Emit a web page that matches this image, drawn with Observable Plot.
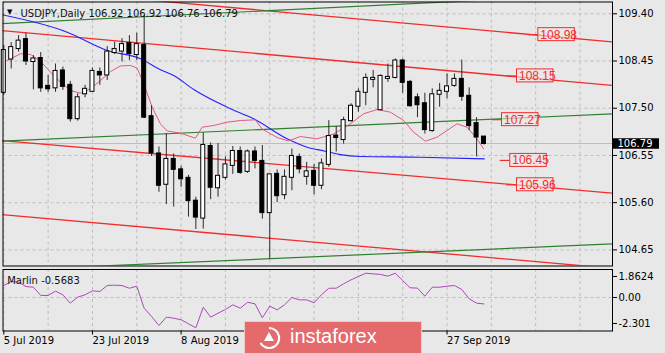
<!DOCTYPE html>
<html><head><meta charset="utf-8">
<script src="https://cdn.jsdelivr.net/npm/d3@7"></script>
<script src="https://cdn.jsdelivr.net/npm/@observablehq/plot@0.6"></script>
<style>
html,body{margin:0;padding:0;background:#e8e8e8;}
#wrap{position:relative;width:665px;height:353px;overflow:hidden;background:#e8e8e8;font-family:"DejaVu Sans";}
#main,#sub{position:absolute;left:0;}
#main{top:0;}
#sub{top:267px;}
#wm{position:absolute;left:244px;top:321px;width:178px;height:33px;background:#e46a6c;border:1px solid #f3c9ca;box-sizing:border-box;color:#fff;font:20px "Liberation Sans";}
#wm span{position:absolute;left:45px;top:3px;}
#wm svg{position:absolute;left:12px;top:4px;}
</style></head><body>
<div id="wrap"><div id="main"></div><div id="sub"></div><div id="wm"><svg width="24" height="24" viewBox="0 0 24 24"><path d="M12 2 A10 10 0 1 1 3.5 17" fill="none" stroke="#fff" stroke-width="2.2"/><path d="M7 15 L12 6 L17 15 Z" fill="#fff"/></svg><span>instaforex</span></div></div>
<script>
// ---- data ----
const symbolTitle = "USDJPY,Daily 106.92 106.92 106.76 106.79";
const openP  = [107.82,108.49,108.70,108.88,108.44,108.50,107.94,107.91,108.25,107.96,107.29,107.79,107.84,108.22,108.17,108.62,108.65,108.80,108.58,108.76,107.33,106.58,105.97,106.47,106.26,106.09,105.63,105.29,106.73,105.90,106.11,106.35,106.63,106.23,106.62,106.43,105.40,106.17,105.76,106.11,106.51,106.13,106.23,105.95,106.37,106.94,106.87,107.25,107.54,107.82,108.08,107.47,108.10,108.12,108.45,108.02,107.71,107.59,107.05,107.78,107.84,107.96,108.08,107.74,107.19,106.92];
const highP  = [108.76,108.82,108.96,109.01,108.56,108.62,108.16,108.39,108.33,108.04,107.79,107.96,108.31,108.31,108.74,108.83,108.90,108.96,109.01,109.37,107.55,106.72,106.99,106.58,106.33,106.15,105.71,107.00,106.80,106.79,106.52,106.73,106.72,106.66,106.72,106.75,106.17,106.26,106.26,106.68,106.58,106.41,106.37,106.48,107.25,107.13,107.32,107.59,107.89,108.19,108.26,108.17,108.39,108.49,108.49,108.06,107.79,107.80,107.89,108.00,108.19,108.19,108.47,107.91,107.31,106.92];
const lowP   = [107.76,108.29,108.63,108.36,107.87,107.82,107.82,107.82,107.86,107.22,107.24,107.71,107.82,107.96,108.06,108.58,108.43,108.46,108.46,107.29,106.53,105.81,105.56,105.51,105.91,105.31,105.06,105.07,105.66,105.71,106.05,106.17,106.17,106.19,106.28,105.27,104.46,105.60,105.66,105.84,106.18,105.95,105.76,105.86,106.31,106.62,106.78,107.22,107.42,107.55,107.91,107.47,108.02,108.09,107.80,107.52,107.31,106.98,107.02,107.52,107.69,107.92,107.64,107.05,106.52,106.76];
const closeP = [108.66,108.72,108.85,108.45,108.49,107.91,107.89,108.24,107.94,107.29,107.71,107.88,108.24,108.17,108.63,108.68,108.78,108.60,108.78,107.32,106.60,105.95,106.47,106.27,106.08,105.64,105.31,106.75,105.91,106.13,106.36,106.63,106.21,106.62,106.45,105.40,106.16,105.74,106.11,106.53,106.28,106.22,105.95,106.38,106.93,106.91,107.25,107.54,107.82,108.10,108.10,108.14,108.12,108.45,108.02,107.55,107.57,107.07,107.77,107.84,107.93,108.08,107.74,107.15,106.92,106.79];

const slowMaIdx = [-0.45,8.58,13.99,18.50,21.20,23.00,25.71,30.23,33.83,38.35,41.06,43.53,45.56,48.27,56.39,65.05];
const slowMaVal = [109.386,109.030,108.662,108.495,108.273,108.159,107.877,107.521,107.287,106.885,106.716,106.636,106.567,106.529,106.515,106.482];

const fastMaIdx = [-0.45,0.91,2.26,3.61,4.97,6.32,7.67,9.03,10.38,11.73,13.09,14.44,15.79,17.15,18.05,18.94,20.08,21.20,22.11,23.91,25.94,26.85,28.42,30.23,32.03,34.06,34.97,37.00,38.53,40.14,42.41,44.65,46.92,48.71,50.53,52.33,54.13,55.48,57.06,58.65,60.00,61.35,62.71,64.06,64.95];
const fastMaVal = [108.394,108.495,108.595,108.581,108.446,108.225,108.024,107.857,107.802,107.891,108.058,108.239,108.350,108.360,108.309,107.992,107.521,107.187,107.042,106.998,106.897,107.118,107.153,107.219,107.253,107.267,107.082,106.911,106.841,106.931,106.885,106.981,107.187,107.388,107.474,107.420,107.253,107.018,106.837,106.917,107.052,107.187,107.118,106.885,106.684];

// channel trendlines: anchor points (bar index, price)
const redStartIdx = [-0.45,-0.45,-0.45,-0.45];
const redStartVal = [109.944,109.064,106.851,105.362];
const redEndIdx   = [82.5,82.5,82.5,82.5];
const redEndVal   = [108.833,107.957,105.790,104.277];
const greenStartIdx = [-0.45,-0.45,-0.45];
const greenStartVal = [109.199,106.837,104.239];
const greenEndIdx   = [82.5,82.5,82.5];
const greenEndVal   = [109.802,107.388,104.772];

const levelVal = [108.98,108.15,107.27,106.45,105.96];
const levelIdx = [72.36,69.47,67.44,68.56,69.47];

const priceTicks = [109.40,108.45,107.50,106.55,105.60,104.65];
const marlinVal = [1.06,1.42,1.36,0.97,0.91,0.18,0.18,0.56,0.24,-0.50,0.03,0.24,0.59,0.53,1.06,1.09,1.06,0.82,1.00,-0.95,-1.68,-2.48,-1.74,-1.83,-1.97,-2.33,-2.68,-0.86,-1.74,-1.39,-1.06,-0.65,-0.95,-0.42,-0.56,-1.80,-0.77,-1.09,-0.65,0.00,-0.21,-0.21,-0.47,0.24,0.82,0.82,1.21,1.56,1.86,2.15,2.09,2.04,1.89,2.15,1.50,0.86,0.83,0.12,0.91,0.91,1.00,1.06,0.71,-0.12,-0.50,-0.57];
const marlinTitle = "Marlin -0.5683";
const marlinTicks = [1.8624,0,-2.301];
const marlinTickLabels = ["1.8624","0.00","-2.301"];
const dateTickIdx = [0,12,24,36,48,60];
// labels at bars 36 and 48 are covered by the watermark in the reference
const dateLabels = ["5 Jul 2019","23 Jul 2019","8 Aug 2019","","","27 Sep 2019"];
const gridIdx = [0,6,12,18,24,30,36,42,48,54,60,66,72,78];

// ---- chart ----
const xDomain = [-0.11, 82.4];
const candles = openP.map((o,i)=>({i, o, h: highP[i], l: lowP[i], c: closeP[i]}));
const bull = candles.filter(d => d.c >= d.o);
const bear = candles.filter(d => d.c < d.o);
const lastClose = closeP[closeP.length-1];
const red = "#f22c2c", green = "#2f802f";
const gridStyle = {stroke: "#bdbdbd", strokeOpacity: 1, strokeDasharray: "3,3"};
const fontFam = "DejaVu Sans";

const main = Plot.plot({
  width: 665, height: 267,
  marginLeft: 2.5, marginRight: 53, marginTop: 1.5, marginBottom: 1.5,
  style: {background: "transparent", fontFamily: fontFam, fontSize: "10px", color: "#000", overflow: "visible"},
  x: {domain: xDomain, axis: null},
  y: {domain: [104.326, 109.637], axis: null},
  marks: [
    Plot.gridY(priceTicks, gridStyle),
    Plot.gridX(gridIdx, gridStyle),
    Plot.ruleY([lastClose], {stroke: "#bcbcbc"}),
    Plot.link(redStartIdx, {x1: redStartIdx, y1: redStartVal, x2: redEndIdx, y2: redEndVal, stroke: red, strokeWidth: 1.3, clip: true}),
    Plot.link(greenStartIdx, {x1: greenStartIdx, y1: greenStartVal, x2: greenEndIdx, y2: greenEndVal, stroke: green, strokeWidth: 1.2, clip: true}),
    Plot.line(slowMaVal, {x: slowMaIdx, y: slowMaVal, stroke: "#2323ff", strokeWidth: 1.1, curve: "monotone-x", clip: true}),
    Plot.line(fastMaVal, {x: fastMaIdx, y: fastMaVal, stroke: "#e05a7a", strokeWidth: 1, clip: true}),
    Plot.ruleX(candles, {x: "i", y1: "l", y2: "h", stroke: "#2a2a2a", strokeWidth: 1}),
    Plot.rect(bear, {x1: "i", x2: "i", y1: "o", y2: "c", insetLeft: -2, insetRight: -2, insetTop: -0.5, insetBottom: -0.5, fill: "black", stroke: "black", strokeWidth: 1}),
    Plot.rect(bull, {x1: "i", x2: "i", y1: "o", y2: "c", insetLeft: -2, insetRight: -2, insetTop: -0.5, insetBottom: -0.5, fill: "white", stroke: "black", strokeWidth: 1}),
    Plot.ruleY(levelVal, {x1: levelIdx, x2: levelIdx, insetLeft: -10, stroke: red, strokeWidth: 1.2}),
    Plot.rect(levelVal, {x1: levelIdx, x2: levelIdx, y1: levelVal, y2: levelVal, insetRight: -36.5, insetTop: -6.5, insetBottom: -6.5, fill: "#efe6e6", fillOpacity: 0.6, stroke: red, strokeWidth: 1}),
    Plot.text(levelVal, {x: levelIdx, y: levelVal, text: d => d.toFixed(2), textAnchor: "start", dx: 2, fill: red, fontSize: 12, fontFamily: "Liberation Sans"}),
    Plot.frame({stroke: "#000"}),
    Plot.axisY(priceTicks, {anchor: "right", tickSize: 4, tickPadding: 2, tickFormat: d => d.toFixed(2), fontSize: 10}),
    Plot.ruleY([lastClose], {x1: xDomain[1], x2: xDomain[1], insetRight: -47, strokeWidth: 10.5, stroke: "#000"}),
    Plot.text([lastClose], {y: d => d, frameAnchor: "right", dx: 5, textAnchor: "start", fill: "#fff", text: d => d.toFixed(2), fontSize: 10}),
    Plot.text(["\u25BC"], {frameAnchor: "top-left", dx: 4, dy: 7, lineAnchor: "top", textAnchor: "start", fontSize: 7, fill: "#000"}),
    Plot.text([symbolTitle], {frameAnchor: "top-left", dx: 17.5, dy: 7.5, lineAnchor: "top", textAnchor: "start", fontSize: 10, fill: "#111"})
  ]
});
document.getElementById("main").appendChild(main);

const sub = Plot.plot({
  width: 665, height: 86,
  marginLeft: 2.5, marginRight: 53, marginTop: 2, marginBottom: 22.5,
  style: {background: "transparent", fontFamily: fontFam, fontSize: "10px", color: "#000", overflow: "visible"},
  x: {domain: xDomain, axis: null},
  y: {domain: [-2.965, 2.478], axis: null},
  marks: [
    Plot.gridY([0], gridStyle),
    Plot.gridX(gridIdx, gridStyle),
    Plot.line(marlinVal, {x: (d, i) => i, y: d => d, stroke: "#b046bb", strokeWidth: 1}),
    Plot.frame({stroke: "#000"}),
    Plot.axisY(marlinTicks, {anchor: "right", tickSize: 4, tickPadding: 2, tickFormat: d => marlinTickLabels[marlinTicks.indexOf(d)], fontSize: 10}),
    Plot.axisX(dateTickIdx, {anchor: "bottom", tickSize: 4, tickPadding: 2, textAnchor: "start", tickFormat: d => dateLabels[dateTickIdx.indexOf(d)], fontSize: 10}),
    Plot.text([marlinTitle], {frameAnchor: "top-left", dx: 4.2, dy: 7, lineAnchor: "top", textAnchor: "start", fontSize: 10, fill: "#111"})
  ]
});
document.getElementById("sub").appendChild(sub);
</script>
</body></html>
